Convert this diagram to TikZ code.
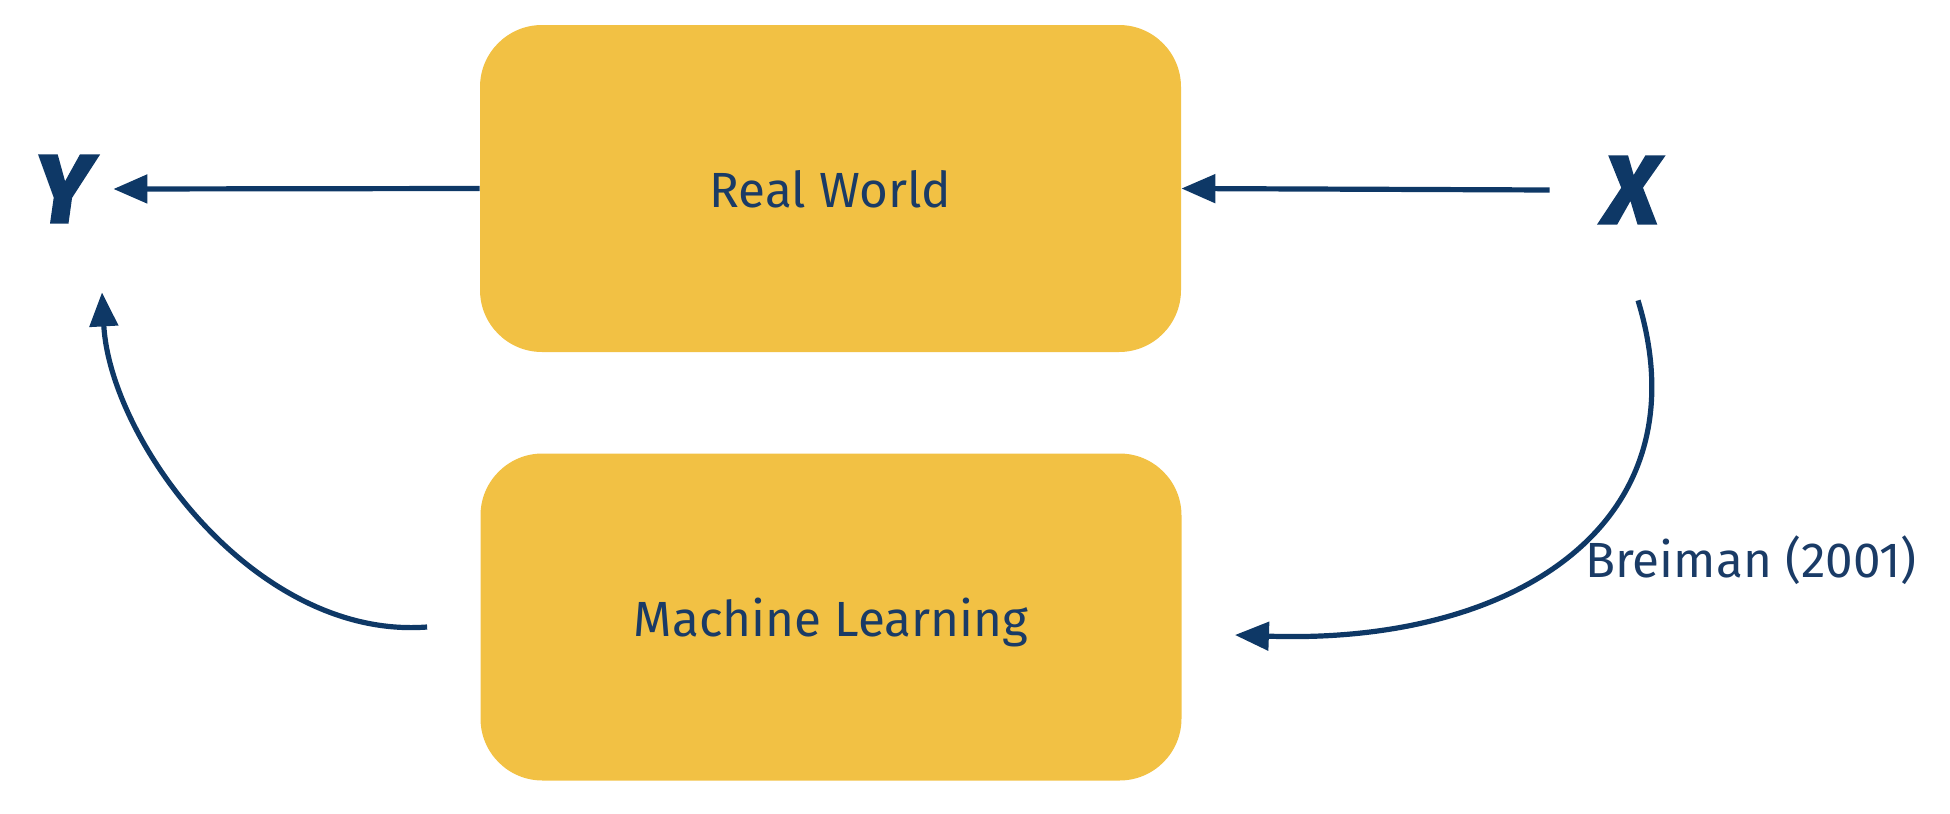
\documentclass[tikz,border=0pt]{standalone}
\usepackage{fontspec}
\setmainfont{Fira Sans}
\usetikzlibrary{arrows.meta}
\definecolor{boxfill}{HTML}{F2C144}
\definecolor{navy}{HTML}{0E3866}
\definecolor{txt}{HTML}{1A3B66}
\begin{document}
\begin{tikzpicture}[x=0.5pt,y=-0.5pt,
  boxnode/.style={fill=boxfill, rounded corners=31pt, minimum width=350.5pt,
    minimum height=163.5pt, inner sep=0pt, text=txt, font=\fontsize{24.7}{28}\selectfont,
    text depth=0pt},
  varnode/.style={text=navy, inner sep=0pt, font=\fontsize{48}{50}\selectfont\bfseries\itshape\addfontfeatures{FakeBold=3}},
  arr/.style={draw=navy, line width=2.6pt, -{Triangle[length=17pt,width=14pt]}},
  lbl/.style={text=txt, inner sep=0pt, font=\fontsize{24.7}{28}\selectfont}
]
\useasboundingbox (0,0) rectangle (1950,814);
\node[boxnode] (rw) at (830.5,188.5) {Real World};
\node[boxnode] (ml) at (831,617) {Machine Learning};
\node[varnode, minimum width=50pt, minimum height=103pt] (Y) at (63,189) {Y};
\node[varnode, minimum width=81pt, minimum height=110pt] (X) at (1631,190) {X};
\node[lbl, anchor=base] (br) at (1751,577) {Breiman (2001)};
\draw[arr] (rw.west) -- (Y.east);
\draw[arr] (X.west) -- (rw.east);
\draw[arr] ([xshift=-26.5pt,yshift=-5pt]ml.west) .. controls (255,640) and (110,440) .. ([xshift=19.5pt]Y.south);
\draw[arr] ([xshift=3.5pt]X.south) .. controls (1705,520) and (1520,645) .. ([xshift=26.5pt,yshift=-9pt]ml.east);
\end{tikzpicture}
\end{document}
